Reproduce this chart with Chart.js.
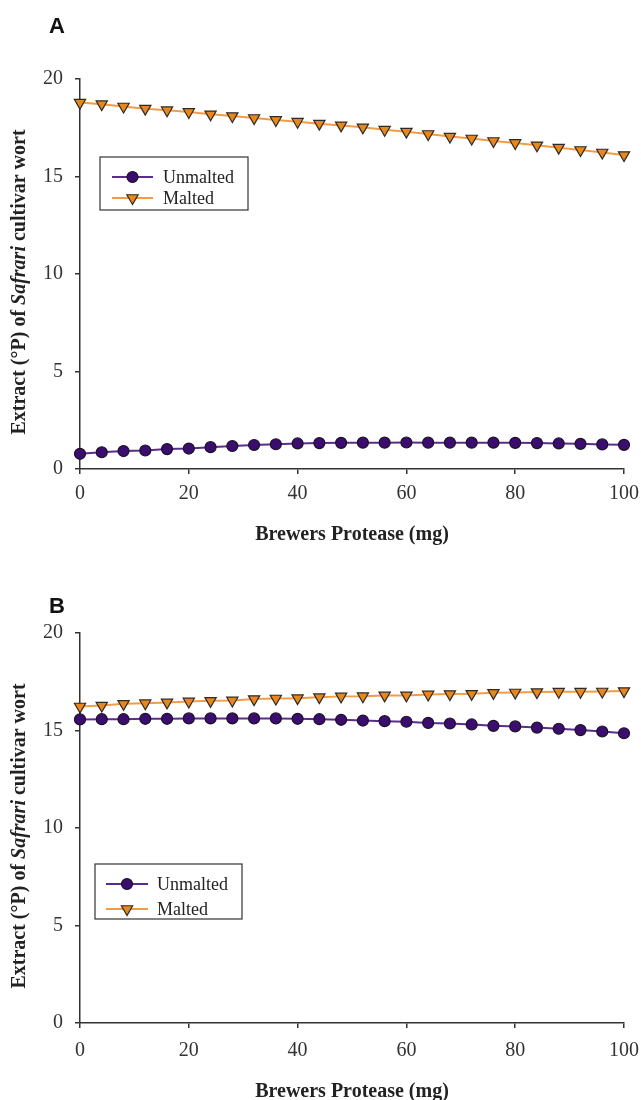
<!DOCTYPE html>
<html>
<head>
<meta charset="utf-8">
<script src="https://cdn.jsdelivr.net/npm/chart.js@4.4.1/dist/chart.umd.min.js"></script>
<style>
    html, body { margin: 0; padding: 0; background: #fff; width: 641px; height: 1100px; overflow: hidden; }
    .panel { position: absolute; left: 0; width: 641px; height: 550px; }
    #panelA { top: 0; }
    #panelB { top: 554px; }
</style>
</head>
<body>
<div class="panel" id="panelA"><canvas id="chartA" width="641" height="550"></canvas></div>
<div class="panel" id="panelB"><canvas id="chartB" width="641" height="550"></canvas></div>
<script>
// Brewers protease dose (mg)
const dose = [0, 4, 8, 12, 16, 20, 24, 28, 32, 36, 40, 44, 48, 52, 56, 60, 64, 68, 72, 76, 80, 84, 88, 92, 96, 100];

// panel A
const unmaltedA = [0.78, 0.86, 0.92, 0.95, 1.02, 1.05, 1.12, 1.18, 1.23, 1.27, 1.31, 1.33, 1.34, 1.35, 1.35, 1.36, 1.35, 1.35, 1.35, 1.35, 1.34, 1.33, 1.31, 1.29, 1.26, 1.24];
const maltedA = [18.79, 18.71, 18.59, 18.48, 18.40, 18.31, 18.19, 18.10, 18.00, 17.90, 17.81, 17.71, 17.62, 17.52, 17.40, 17.30, 17.18, 17.05, 16.95, 16.82, 16.72, 16.60, 16.48, 16.36, 16.23, 16.10];

// panel B
const unmaltedB = [15.57, 15.58, 15.58, 15.60, 15.60, 15.62, 15.62, 15.62, 15.62, 15.62, 15.60, 15.58, 15.55, 15.51, 15.48, 15.45, 15.39, 15.36, 15.31, 15.24, 15.21, 15.15, 15.09, 15.02, 14.95, 14.86];
const maltedB = [16.23, 16.28, 16.37, 16.40, 16.44, 16.49, 16.52, 16.54, 16.61, 16.64, 16.66, 16.71, 16.75, 16.76, 16.80, 16.80, 16.85, 16.87, 16.88, 16.93, 16.95, 16.97, 16.99, 16.99, 17.00, 17.02];

const seriesNames = ['Unmalted', 'Malted'];
const xTitle = 'Brewers Protease (mg)';
const yTitleParts = [['Extract (\u00B0P) of ', false], ['Safrari', true], [' cultivar wort', false]];

const serif = '"Liberation Serif", "Times New Roman", serif';
const axisColor = '#333';

// panel letter, rotated y title (with italic cultivar name) and boxed legend
const extras = {
    id: 'extras',
    afterDraw(chart, args, o) {
        const ctx = chart.ctx;
        ctx.save();

        ctx.fillStyle = '#111';
        ctx.font = 'bold 22px "Liberation Sans", Arial, sans-serif';
        ctx.textAlign = 'left';
        ctx.textBaseline = 'alphabetic';
        ctx.fillText(o.letter, o.letterX, o.letterY);

        // y title
        const fontFor = italic => (italic ? 'italic bold ' : 'bold ') + '20px ' + serif;
        let total = 0;
        yTitleParts.forEach(p => { ctx.font = fontFor(p[1]); total += ctx.measureText(p[0]).width; });
        ctx.translate(o.yTitleX, o.yTitleY);
        ctx.rotate(-Math.PI / 2);
        ctx.textBaseline = 'middle';
        ctx.fillStyle = '#222';
        let x = -total / 2;
        yTitleParts.forEach(p => {
            ctx.font = fontFor(p[1]);
            ctx.fillText(p[0], x, 0);
            x += ctx.measureText(p[0]).width;
        });
        ctx.setTransform(1, 0, 0, 1, 0, 0);

        // legend
        const b = o.legend;
        ctx.strokeStyle = '#333';
        ctx.lineWidth = 1.2;
        ctx.strokeRect(b.x, b.y, b.w, b.h);
        chart.data.datasets.forEach((ds, i) => {
            const ly = b.y + b.row0 + i * b.rowGap;
            ctx.strokeStyle = ds.borderColor;
            ctx.lineWidth = 2;
            ctx.beginPath();
            ctx.moveTo(b.x + b.lineX0, ly);
            ctx.lineTo(b.x + b.lineX1, ly);
            ctx.stroke();
            ctx.fillStyle = ds.pointBackgroundColor;
            ctx.strokeStyle = ds.pointBorderColor;
            ctx.lineWidth = ds.pointBorderWidth;
            Chart.helpers.drawPoint(ctx, {
                pointStyle: ds.pointStyle,
                rotation: ds.pointRotation || 0,
                radius: ds.pointRadius,
                borderWidth: ds.pointBorderWidth
            }, b.x + (b.lineX0 + b.lineX1) / 2, ly);
            ctx.fillStyle = '#222';
            ctx.font = '18px ' + serif;
            ctx.textAlign = 'left';
            ctx.textBaseline = 'middle';
            ctx.fillText(ds.label, b.x + b.textX, ly + 1);
        });
        ctx.restore();
    }
};

function buildPanel(id, unmalted, malted, panelOpts) {
    const toPoints = vals => dose.map((d, i) => ({x: d, y: vals[i]}));
    return new Chart(document.getElementById(id).getContext('2d'), {
        type: 'line',
        data: {
            datasets: [{
                label: seriesNames[0],
                data: toPoints(unmalted),
                borderColor: '#5a2d8c',
                borderWidth: 2,
                pointStyle: 'circle',
                pointRadius: 5.5,
                pointBackgroundColor: '#3a0d6e',
                pointBorderColor: '#1c1226',
                pointBorderWidth: 1.2,
                tension: 0,
                clip: false
            }, {
                label: seriesNames[1],
                data: toPoints(malted),
                borderColor: '#f39c45',
                borderWidth: 2,
                pointStyle: 'triangle',
                pointRotation: 180,
                pointRadius: 6.5,
                pointBackgroundColor: '#e8881c',
                pointBorderColor: '#2e2a26',
                pointBorderWidth: 1.2,
                tension: 0,
                clip: false
            }]
        },
        options: {
            responsive: false,
            animation: false,
            layout: {padding: {top: 79, right: 17, left: 0, bottom: 0}},
            plugins: {
                legend: {display: false},
                tooltip: {enabled: false},
                extras: panelOpts
            },
            scales: {
                x: {
                    type: 'linear',
                    min: 0,
                    max: 100,
                    ticks: {stepSize: 20, color: axisColor, padding: panelOpts.xTickPad, font: {family: serif, size: 20}},
                    grid: {drawOnChartArea: false, tickLength: 5, color: axisColor, lineWidth: 1.5},
                    border: {color: axisColor, width: 1.5},
                    title: {
                        display: true,
                        text: xTitle,
                        color: '#222',
                        font: {family: serif, size: 20, weight: 'bold'},
                        padding: {top: 0, bottom: panelOpts.xTitlePad}
                    },
                    afterFit: s => {
                        s.height = 81;
                        s.paddingLeft = 0;
                        s.paddingRight = 0;
                    }
                },
                y: {
                    min: 0,
                    max: 20,
                    ticks: {stepSize: 5, color: axisColor, padding: 12, font: {family: serif, size: 20}},
                    grid: {drawOnChartArea: false, tickLength: 5, color: axisColor, lineWidth: 1.5},
                    border: {color: axisColor, width: 1.5},
                    afterFit: s => { s.width = 80; }
                }
            }
        },
        plugins: [extras]
    });
}

buildPanel('chartA', unmaltedA, maltedA, {
    letter: 'A', letterX: 49, letterY: 33,
    yTitleX: 20, yTitleY: 282,
    xTickPad: 8, xTitlePad: 3,
    legend: {x: 100, y: 157, w: 148, h: 53, row0: 20, rowGap: 21, lineX0: 12, lineX1: 53, textX: 63}
});
buildPanel('chartB', unmaltedB, maltedB, {
    letter: 'B', letterX: 49, letterY: 59,
    yTitleX: 20, yTitleY: 282,
    xTickPad: 11, xTitlePad: 0,
    legend: {x: 95, y: 310, w: 147, h: 55, row0: 20, rowGap: 25, lineX0: 11, lineX1: 53, textX: 62}
});
</script>
</body>
</html>
